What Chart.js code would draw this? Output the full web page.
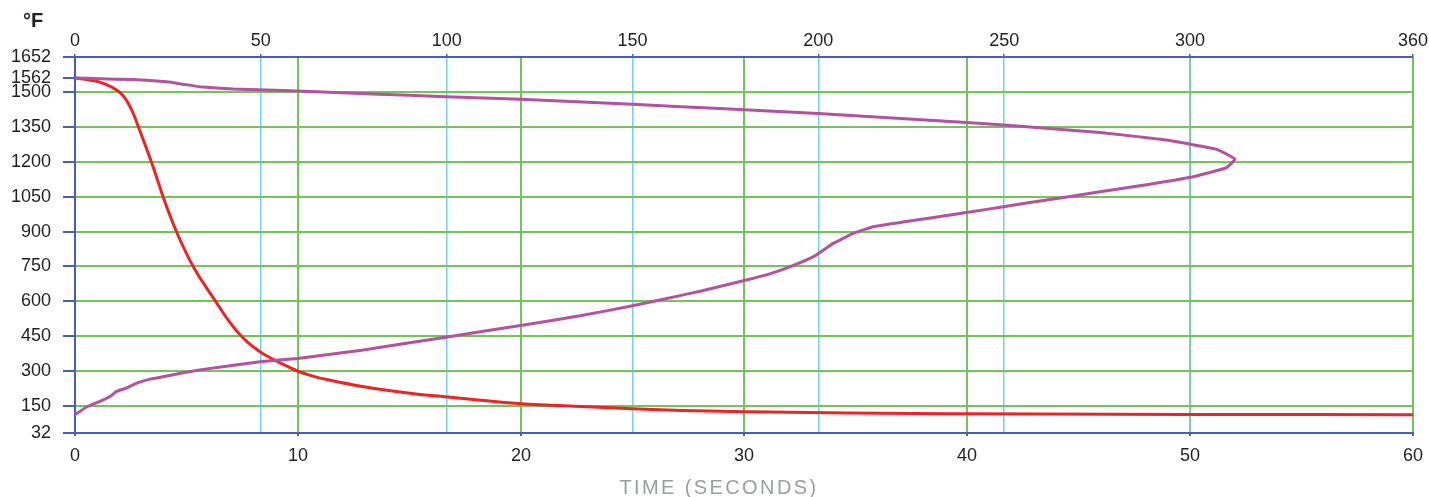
<!DOCTYPE html>
<html lang="en">
<head>
<meta charset="UTF-8">
<title>Temperature vs time</title>
<script src="https://cdn.jsdelivr.net/npm/chart.js"></script>
<style>
    body { margin: 0; background: #ffffff; }
    .wrap { position: relative; width: 1429px; height: 497px; }
    .unit { position: absolute; left: 23px; top: 10px; font: bold 20px/20px "Liberation Sans", Arial, sans-serif; color: #231f20; }
    .xtitle { position: absolute; left: 619px; top: 477px; width: 200px; text-align: center; font: 20px/20px "Liberation Sans", Arial, sans-serif; letter-spacing: 2.4px; color: #9b9ea2; white-space: nowrap; }
</style>
</head>
<body>
<div class="wrap">
    <canvas id="chart" width="1429" height="497"></canvas>
    <div class="unit">°F</div>
    <div class="xtitle">TIME (SECONDS)</div>
</div>
<script>
// tick labels
const yTicks = [32, 150, 300, 450, 600, 750, 900, 1050, 1200, 1350, 1500, 1562, 1652];
const bottomTicks = [0, 10, 20, 30, 40, 50, 60];
const topTicks = [0, 50, 100, 150, 200, 250, 300, 360];

// red curve, bottom axis (seconds)
const redTime = [0, 1.1, 1.9, 2.15, 2.4, 2.65, 2.9, 3.45, 3.95, 4.25, 4.55, 5.3, 6.3, 6.8, 7.3, 7.8, 8.33, 8.84, 9.5, 10, 10.7, 11.4, 12.9, 15.2, 16.6, 18.2, 20, 22.7, 25, 27.2, 29.4, 34.7, 40, 50, 60];
const redTemp = [1562, 1544, 1508, 1486, 1451, 1400, 1336, 1193, 1050, 971, 899, 749, 600, 528, 466, 418, 380, 352, 320, 298, 276, 260, 232, 201, 188, 173, 158, 146, 137, 129, 125, 118, 115, 112, 111];

// purple curve, top axis
const purpleTime = [0, 6.7, 15.7, 24.7, 29, 33.6, 42.6, 51.6, 60, 80, 99.8, 119.9, 150, 173.5, 200, 239.9, 250, 275.8, 293.7, 307.2, 312.1,
    309.7, 300.9, 289.2, 275.8, 262.3, 249.8, 239.9, 214.8, 209.4, 204, 199.1, 193.3, 187.4, 179.8, 168.2, 162.8, 150, 135.9, 119.9, 99.8, 77.6, 59.9, 49.8, 33.6, 24.7, 20.2, 16.6, 13.9, 11.2, 9.4, 6.7, 3.1, 0];
const purpleTemp = [1562, 1558, 1555, 1545, 1535, 1524, 1514, 1510, 1506, 1493, 1481, 1470, 1448, 1430, 1409, 1370, 1359, 1327, 1294, 1254, 1212,
    1174, 1136, 1104, 1071, 1038, 1007, 982, 921, 892, 849, 795, 754, 720, 688, 643, 624, 580, 537, 495, 445, 390, 353, 339, 304, 278, 264, 247, 226, 211, 189, 168, 144, 111];

const BLUE = '#4b5fb0';
const GREEN = '#74c459';
const CYAN = '#74d0e6';

function pts(xs, ys) {
    return xs.map((x, i) => ({ x: x, y: ys[i] }));
}

Chart.defaults.font.family = '"Liberation Sans", Arial, sans-serif';
Chart.defaults.font.size = 18;
Chart.defaults.color = '#231f20';

const ctx = document.getElementById('chart').getContext('2d');
new Chart(ctx, {
    type: 'scatter',
    data: {
        datasets: [{
            data: pts(purpleTime, purpleTemp),
            xAxisID: 'x2',
            showLine: true,
            borderColor: '#b4529f',
            borderWidth: 3,
            pointRadius: 0,
            tension: 0.1
        }, {
            data: pts(redTime, redTemp),
            xAxisID: 'x',
            showLine: true,
            borderColor: '#ee2424',
            borderWidth: 3,
            pointRadius: 0,
            cubicInterpolationMode: 'monotone'
        }]
    },
    options: {
        responsive: false,
        animation: false,
        layout: { padding: { left: 0, right: 16, top: 0, bottom: 0 } },
        plugins: { legend: { display: false }, tooltip: { enabled: false } },
        scales: {
            x: {
                type: 'linear',
                position: 'bottom',
                min: 0,
                max: 60,
                afterBuildTicks: s => { s.ticks = bottomTicks.map(v => ({ value: v })); },
                afterFit: s => { s.height = 64; s.paddingLeft = 0; s.paddingRight = 0; },
                ticks: { padding: 9, maxRotation: 0 },
                border: { color: BLUE, width: 2 },
                grid: {
                    color: c => c.tick && c.tick.value === 0 ? 'rgba(0,0,0,0)' : GREEN,
                    lineWidth: 2,
                    tickColor: BLUE,
                    tickLength: 3
                }
            },
            x2: {
                type: 'linear',
                position: 'top',
                min: 0,
                max: 360,
                afterBuildTicks: s => { s.ticks = topTicks.map(v => ({ value: v })); },
                afterFit: s => { s.height = 57; s.paddingLeft = 0; s.paddingRight = 0; },
                ticks: { padding: 2, maxRotation: 0 },
                border: { color: BLUE, width: 2 },
                grid: {
                    color: c => c.tick && (c.tick.value === 0 || c.tick.value === 360) ? 'rgba(0,0,0,0)' : CYAN,
                    lineWidth: 1.5,
                    tickColor: BLUE,
                    tickLength: 3
                }
            },
            y: {
                type: 'linear',
                min: 32,
                max: 1652,
                afterBuildTicks: s => { s.ticks = yTicks.map(v => ({ value: v })); },
                afterFit: s => { s.width = 75; },
                ticks: { padding: 12, callback: v => String(v) },
                border: { color: BLUE, width: 2 },
                grid: {
                    color: c => c.tick && [32, 1562, 1652].includes(c.tick.value) ? 'rgba(0,0,0,0)' : GREEN,
                    lineWidth: 2,
                    tickColor: BLUE,
                    tickLength: 12
                }
            }
        }
    }
});
</script>
</body>
</html>
